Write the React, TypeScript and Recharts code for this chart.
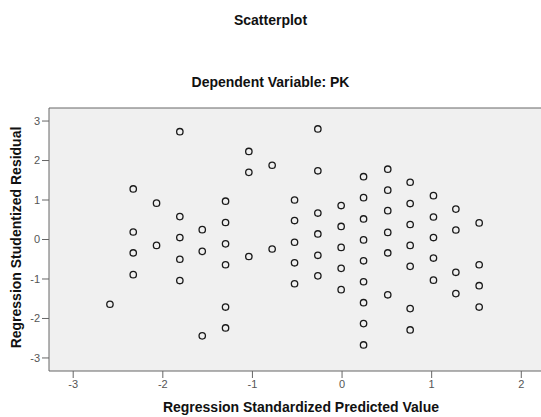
import { CartesianGrid, ReferenceLine, Scatter, ScatterChart, XAxis, YAxis } from "recharts"

const predicted = [
  -2.59,
  -2.33, -2.33, -2.33, -2.33,
  -2.07, -2.07,
  -1.81, -1.81, -1.81, -1.81, -1.81,
  -1.56, -1.56, -1.56,
  -1.3, -1.3, -1.3, -1.3, -1.3, -1.3,
  -1.04, -1.04, -1.04,
  -0.78, -0.78,
  -0.53, -0.53, -0.53, -0.53, -0.53,
  -0.27, -0.27, -0.27, -0.27, -0.27, -0.27,
  -0.01, -0.01, -0.01, -0.01, -0.01,
  0.24, 0.24, 0.24, 0.24, 0.24, 0.24, 0.24, 0.24, 0.24,
  0.51, 0.51, 0.51, 0.51, 0.51, 0.51,
  0.76, 0.76, 0.76, 0.76, 0.76, 0.76, 0.76,
  1.02, 1.02, 1.02, 1.02, 1.02,
  1.27, 1.27, 1.27, 1.27,
  1.53, 1.53, 1.53, 1.53,
]

const residual = [
  -1.64,
  1.28, 0.19, -0.34, -0.89,
  0.92, -0.15,
  2.73, 0.58, 0.05, -0.5, -1.04,
  0.25, -0.3, -2.44,
  0.97, 0.43, -0.11, -0.64, -1.71, -2.24,
  2.23, 1.7, -0.43,
  1.88, -0.24,
  1.0, 0.48, -0.07, -0.59, -1.12,
  2.8, 1.74, 0.67, 0.14, -0.4, -0.92,
  0.86, 0.33, -0.2, -0.73, -1.27,
  1.59, 1.06, 0.52, -0.01, -0.54, -1.07, -1.6, -2.13, -2.67,
  1.78, 1.25, 0.73, 0.18, -0.34, -1.4,
  1.45, 0.91, 0.38, -0.15, -0.68, -1.75, -2.29,
  1.11, 0.57, 0.05, -0.47, -1.03,
  0.77, 0.24, -0.83, -1.37,
  0.42, -0.64, -1.17, -1.71,
]

const xTicks = [-3, -2, -1, 0, 1, 2]
const yTicks = [-3, -2, -1, 0, 1, 2, 3]

const points = predicted.map((x, i) => ({ x, y: residual[i] }))

const font = "Arial, 'Liberation Sans', sans-serif"

const Ring = (props: any) => {
  const { cx, cy } = props
  return <circle cx={cx} cy={cy} r={3.2} fill="none" stroke="#1a1a1a" strokeWidth={1.3} />
}

export default function App() {
  return (
    <div style={{ position: "absolute", left: 0, top: 0, width: 541, height: 417, background: "#fff", fontFamily: font }}>
      <div style={{ position: "absolute", top: 12, width: 541, textAlign: "center", fontSize: 14, fontWeight: "bold", color: "#111" }}>
        Scatterplot
      </div>
      <div style={{ position: "absolute", top: 74, width: 541, textAlign: "center", fontSize: 14, fontWeight: "bold", color: "#111" }}>
        Dependent Variable: PK
      </div>
      <ScatterChart width={541} height={417} margin={{ top: 108, right: 0, bottom: 0, left: 0 }} style={{ position: "absolute", left: 0, top: 0 }}>
        <CartesianGrid fill="#f0f0f0" stroke="none" horizontal={false} vertical={false} />
        <XAxis
          type="number"
          dataKey="x"
          domain={[-3.27, 2.22]}
          ticks={xTicks}
          height={46}
          stroke="#666"
          tickSize={7}
          tick={{ fill: "#555", fontSize: 11, fontFamily: font }}
          label={{ value: "Regression Standardized Predicted Value", position: "insideBottom", offset: 5, dx: 6, fill: "#111", fontSize: 14, fontWeight: "bold", fontFamily: font }}
        />
        <YAxis
          type="number"
          dataKey="y"
          domain={[-3.33, 3.33]}
          ticks={yTicks}
          width={49}
          stroke="#666"
          tickSize={7}
          tick={{ fill: "#555", fontSize: 11, fontFamily: font }}
          label={{ value: "Regression Studentized Residual", angle: -90, position: "insideLeft", offset: 16, dy: -2, fill: "#111", fontSize: 14, fontWeight: "bold", fontFamily: font, style: { textAnchor: "middle" } }}
        />
        <ReferenceLine y={3.33} stroke="#666" />
        <Scatter data={points} shape={Ring} isAnimationActive={false} />
      </ScatterChart>
    </div>
  )
}
